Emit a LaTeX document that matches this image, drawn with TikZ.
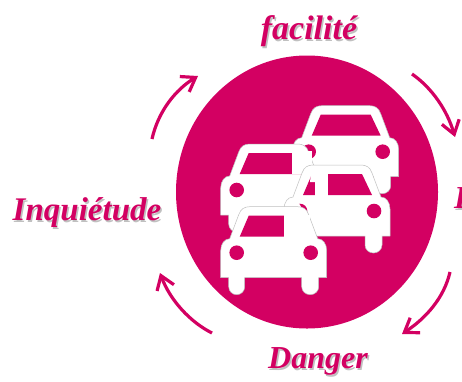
\documentclass[tikz,border=0pt]{standalone}
\usepackage{fontspec}
\setmainfont{Liberation Serif}
\usetikzlibrary{arrows.meta}
\definecolor{rose}{HTML}{D30062}
\tikzset{
  x=1pt,y=-1pt,
  turnarrow/.style={draw=rose,line width=3.2pt,-{Straight Barb[length=13pt,width=18pt,line width=3.2pt]}},
  label/.style={text=rose,font=\bfseries\itshape\fontsize{#1}{#1}\selectfont,inner sep=0pt},
  shade/.style={text=black!45,opacity=.55,font=\bfseries\itshape\fontsize{#1}{#1}\selectfont,inner sep=0pt},
  carbody/.style={fill=white,draw=black!25,line width=.5pt,line join=round},
  pane/.style={fill=rose,draw=none},
  lamp/.style={fill=rose,draw=none},
  patch/.style={fill=white,draw=none}
}
\newcommand{\carshape}[2]{%
  \begin{scope}[shift={(#1,#2)}]
    \path[carbody] (-45,0) -- (-45,9) arc[start angle=180,end angle=0,x radius=8,y radius=8] -- (-29,0) -- (28,0)
      -- (28,9) arc[start angle=180,end angle=0,x radius=8.5,y radius=8] -- (45,0) -- (53,0) -- (53,-27)
      .. controls (53,-34) and (49,-39) .. (44,-39) -- (35,-63)
      .. controls (33,-69) and (29,-71) .. (24,-71) -- (-24,-71)
      .. controls (-29,-71) and (-33,-69) .. (-35,-63) -- (-44,-39)
      .. controls (-49,-39) and (-53,-34) .. (-53,-27) -- (-53,0) -- cycle;
    \fill[pane] (-34,-41) -- (-25,-62) -- (25,-62) -- (35,-41) -- cycle;
    \fill[lamp] (-37,-25) circle[radius=7.3];
    \fill[lamp] (37,-25) circle[radius=7.3];
  \end{scope}}
\begin{document}
\begin{tikzpicture}
\useasboundingbox (0,0) rectangle (462,381);
\clip (0,0) rectangle (462,381);
% disc
\fill[rose] (307,192) ellipse[x radius=131,y radius=136.5];
% cars, back to front
\carshape{345.7}{176.7}
\carshape{273.7}{215}
\fill[patch] (291.7,151) rectangle (312,174);
\carshape{337}{236}
\fill[patch] (315,173) rectangle (327.5,196);
\fill[patch] (311,173) -- (318,173) -- (318,182) -- (310,182) -- cycle;
\fill[patch] (294,209) circle[radius=7.3];
\carshape{273.7}{277.7}
\fill[patch] (283.5,215) rectangle (310,237);
% turning arrows
\coordinate (a1s) at (152,139);
\coordinate (a1e) at (198,76);
\coordinate (a2s) at (412,74);
\coordinate (a2e) at (455,137);
\coordinate (a3s) at (450,272);
\coordinate (a3e) at (402,334);
\coordinate (a4s) at (212,333);
\coordinate (a4e) at (160,273);
\draw[turnarrow] (a1s) .. controls (158,112) and (175,90) .. (a1e);
\draw[turnarrow] (a2s) .. controls (432,88) and (447,110) .. (a2e);
\draw[turnarrow] (a3s) .. controls (444,298) and (426,318) .. (a3e);
\draw[turnarrow] (a4s) .. controls (190,322) and (170,300) .. (a4e);
% words
\node[shade=34] (sfac) at (310.5,33) {facilité};
\node[label=34] (fac) at (309,31) {facilité};
\node[shade=33] (sinq) at (88.5,215) {Inquiétude};
\node[label=33] (inq) at (87,213) {Inquiétude};
\node[shade=32] (sdan) at (319.5,363) {Danger};
\node[label=32] (dan) at (318,361) {Danger};
\node[shade=32,anchor=west] (scut) at (455.5,200) {E};
\node[label=32,anchor=west] (cut) at (454,198) {E};
\end{tikzpicture}
\end{document}
